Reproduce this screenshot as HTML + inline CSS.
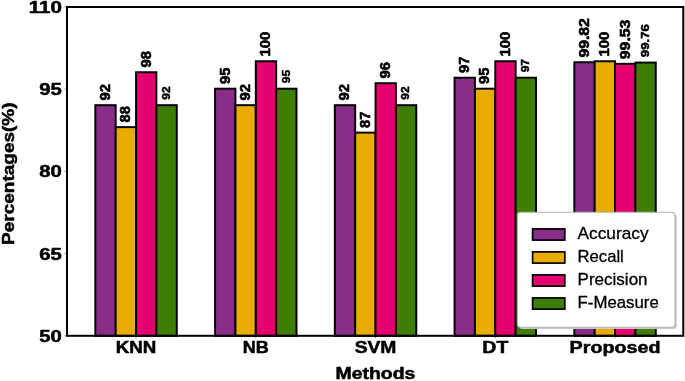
<!DOCTYPE html>
<html><head><meta charset="utf-8"><title>chart</title>
<style>html,body{margin:0;padding:0;background:#fff;}body{width:685px;height:381px;overflow:hidden;font-family:"Liberation Sans",sans-serif;}</style></head>
<body>
<svg width="685" height="381" viewBox="0 0 685 381" style="display:block;will-change:transform">
<rect x="0" y="0" width="685" height="381" fill="#fff"/>
<rect x="95.33" y="105.17" width="20.36" height="230.63" fill="#882E87" stroke="#000" stroke-width="1.95"/>
<text transform="translate(109.81,100.47) rotate(-90)" font-family="Liberation Sans, sans-serif" font-weight="bold" font-size="14.2" textLength="16.4" lengthAdjust="spacingAndGlyphs" stroke="#000" stroke-width="0.6" stroke-linejoin="round">92</text>
<rect x="115.69" y="127.13" width="20.36" height="208.67" fill="#E8AB00" stroke="#000" stroke-width="1.95"/>
<text transform="translate(130.17,122.43) rotate(-90)" font-family="Liberation Sans, sans-serif" font-weight="bold" font-size="14.2" textLength="16.4" lengthAdjust="spacingAndGlyphs" stroke="#000" stroke-width="0.6" stroke-linejoin="round">88</text>
<rect x="136.05" y="72.23" width="20.36" height="263.57" fill="#E6006F" stroke="#000" stroke-width="1.95"/>
<text transform="translate(150.53,67.53) rotate(-90)" font-family="Liberation Sans, sans-serif" font-weight="bold" font-size="14.2" textLength="16.4" lengthAdjust="spacingAndGlyphs" stroke="#000" stroke-width="0.6" stroke-linejoin="round">98</text>
<rect x="156.41" y="105.17" width="20.36" height="230.63" fill="#3E7E04" stroke="#000" stroke-width="1.95"/>
<text transform="translate(169.89,99.77) rotate(-90)" font-family="Liberation Sans, sans-serif" font-weight="bold" font-size="11.6" textLength="13.4" lengthAdjust="spacingAndGlyphs" stroke="#000" stroke-width="0.5" stroke-linejoin="round">92</text>
<rect x="215.08" y="88.70" width="20.36" height="247.10" fill="#882E87" stroke="#000" stroke-width="1.95"/>
<text transform="translate(229.56,84.00) rotate(-90)" font-family="Liberation Sans, sans-serif" font-weight="bold" font-size="14.2" textLength="16.4" lengthAdjust="spacingAndGlyphs" stroke="#000" stroke-width="0.6" stroke-linejoin="round">95</text>
<rect x="235.44" y="105.17" width="20.36" height="230.63" fill="#E8AB00" stroke="#000" stroke-width="1.95"/>
<text transform="translate(249.92,100.47) rotate(-90)" font-family="Liberation Sans, sans-serif" font-weight="bold" font-size="14.2" textLength="16.4" lengthAdjust="spacingAndGlyphs" stroke="#000" stroke-width="0.6" stroke-linejoin="round">92</text>
<rect x="255.80" y="61.25" width="20.36" height="274.55" fill="#E6006F" stroke="#000" stroke-width="1.95"/>
<text transform="translate(270.28,56.55) rotate(-90)" font-family="Liberation Sans, sans-serif" font-weight="bold" font-size="14.2" textLength="24.8" lengthAdjust="spacingAndGlyphs" stroke="#000" stroke-width="0.6" stroke-linejoin="round">100</text>
<rect x="276.16" y="88.70" width="20.36" height="247.10" fill="#3E7E04" stroke="#000" stroke-width="1.95"/>
<text transform="translate(289.64,83.30) rotate(-90)" font-family="Liberation Sans, sans-serif" font-weight="bold" font-size="11.6" textLength="13.4" lengthAdjust="spacingAndGlyphs" stroke="#000" stroke-width="0.5" stroke-linejoin="round">95</text>
<rect x="334.83" y="105.17" width="20.36" height="230.63" fill="#882E87" stroke="#000" stroke-width="1.95"/>
<text transform="translate(349.31,100.47) rotate(-90)" font-family="Liberation Sans, sans-serif" font-weight="bold" font-size="14.2" textLength="16.4" lengthAdjust="spacingAndGlyphs" stroke="#000" stroke-width="0.6" stroke-linejoin="round">92</text>
<rect x="355.19" y="132.62" width="20.36" height="203.18" fill="#E8AB00" stroke="#000" stroke-width="1.95"/>
<text transform="translate(369.67,127.92) rotate(-90)" font-family="Liberation Sans, sans-serif" font-weight="bold" font-size="14.2" textLength="16.4" lengthAdjust="spacingAndGlyphs" stroke="#000" stroke-width="0.6" stroke-linejoin="round">87</text>
<rect x="375.55" y="83.21" width="20.36" height="252.59" fill="#E6006F" stroke="#000" stroke-width="1.95"/>
<text transform="translate(390.03,78.51) rotate(-90)" font-family="Liberation Sans, sans-serif" font-weight="bold" font-size="14.2" textLength="16.4" lengthAdjust="spacingAndGlyphs" stroke="#000" stroke-width="0.6" stroke-linejoin="round">96</text>
<rect x="395.91" y="105.17" width="20.36" height="230.63" fill="#3E7E04" stroke="#000" stroke-width="1.95"/>
<text transform="translate(409.39,99.77) rotate(-90)" font-family="Liberation Sans, sans-serif" font-weight="bold" font-size="11.6" textLength="13.4" lengthAdjust="spacingAndGlyphs" stroke="#000" stroke-width="0.5" stroke-linejoin="round">92</text>
<rect x="454.58" y="77.72" width="20.36" height="258.08" fill="#882E87" stroke="#000" stroke-width="1.95"/>
<text transform="translate(469.06,73.02) rotate(-90)" font-family="Liberation Sans, sans-serif" font-weight="bold" font-size="14.2" textLength="16.4" lengthAdjust="spacingAndGlyphs" stroke="#000" stroke-width="0.6" stroke-linejoin="round">97</text>
<rect x="474.94" y="88.70" width="20.36" height="247.10" fill="#E8AB00" stroke="#000" stroke-width="1.95"/>
<text transform="translate(489.42,84.00) rotate(-90)" font-family="Liberation Sans, sans-serif" font-weight="bold" font-size="14.2" textLength="16.4" lengthAdjust="spacingAndGlyphs" stroke="#000" stroke-width="0.6" stroke-linejoin="round">95</text>
<rect x="495.30" y="61.25" width="20.36" height="274.55" fill="#E6006F" stroke="#000" stroke-width="1.95"/>
<text transform="translate(509.78,56.55) rotate(-90)" font-family="Liberation Sans, sans-serif" font-weight="bold" font-size="14.2" textLength="24.8" lengthAdjust="spacingAndGlyphs" stroke="#000" stroke-width="0.6" stroke-linejoin="round">100</text>
<rect x="515.66" y="77.72" width="20.36" height="258.08" fill="#3E7E04" stroke="#000" stroke-width="1.95"/>
<text transform="translate(529.14,72.32) rotate(-90)" font-family="Liberation Sans, sans-serif" font-weight="bold" font-size="11.6" textLength="13.4" lengthAdjust="spacingAndGlyphs" stroke="#000" stroke-width="0.5" stroke-linejoin="round">97</text>
<rect x="574.33" y="62.24" width="20.36" height="273.56" fill="#882E87" stroke="#000" stroke-width="1.95"/>
<text transform="translate(588.81,57.54) rotate(-90)" font-family="Liberation Sans, sans-serif" font-weight="bold" font-size="14.2" textLength="39.4" lengthAdjust="spacingAndGlyphs" stroke="#000" stroke-width="0.6" stroke-linejoin="round">99.82</text>
<rect x="594.69" y="61.25" width="20.36" height="274.55" fill="#E8AB00" stroke="#000" stroke-width="1.95"/>
<text transform="translate(609.17,56.55) rotate(-90)" font-family="Liberation Sans, sans-serif" font-weight="bold" font-size="14.2" textLength="24.8" lengthAdjust="spacingAndGlyphs" stroke="#000" stroke-width="0.6" stroke-linejoin="round">100</text>
<rect x="615.05" y="63.83" width="20.36" height="271.97" fill="#E6006F" stroke="#000" stroke-width="1.95"/>
<text transform="translate(629.53,59.13) rotate(-90)" font-family="Liberation Sans, sans-serif" font-weight="bold" font-size="14.2" textLength="39.4" lengthAdjust="spacingAndGlyphs" stroke="#000" stroke-width="0.6" stroke-linejoin="round">99.53</text>
<rect x="635.41" y="62.57" width="20.36" height="273.23" fill="#3E7E04" stroke="#000" stroke-width="1.95"/>
<text transform="translate(648.89,57.17) rotate(-90)" font-family="Liberation Sans, sans-serif" font-weight="bold" font-size="11.6" textLength="33.0" lengthAdjust="spacingAndGlyphs" stroke="#000" stroke-width="0.5" stroke-linejoin="round">99.76</text>
<rect x="67.0" y="7.0" width="616.30" height="328.8" fill="none" stroke="#000" stroke-width="2"/>
<line x1="136.05" y1="336.6" x2="136.05" y2="338.4" stroke="#000" stroke-width="0.9" opacity="0.45"/>
<line x1="255.80" y1="336.6" x2="255.80" y2="338.4" stroke="#000" stroke-width="0.9" opacity="0.45"/>
<line x1="375.55" y1="336.6" x2="375.55" y2="338.4" stroke="#000" stroke-width="0.9" opacity="0.45"/>
<line x1="495.30" y1="336.6" x2="495.30" y2="338.4" stroke="#000" stroke-width="0.9" opacity="0.45"/>
<line x1="615.05" y1="336.6" x2="615.05" y2="338.4" stroke="#000" stroke-width="0.9" opacity="0.45"/>
<line x1="64.4" y1="335.80" x2="66.2" y2="335.80" stroke="#000" stroke-width="0.9" opacity="0.45"/>
<line x1="64.4" y1="253.60" x2="66.2" y2="253.60" stroke="#000" stroke-width="0.9" opacity="0.45"/>
<line x1="64.4" y1="171.40" x2="66.2" y2="171.40" stroke="#000" stroke-width="0.9" opacity="0.45"/>
<line x1="64.4" y1="89.20" x2="66.2" y2="89.20" stroke="#000" stroke-width="0.9" opacity="0.45"/>
<line x1="64.4" y1="7.00" x2="66.2" y2="7.00" stroke="#000" stroke-width="0.9" opacity="0.45"/>
<text x="39.30" y="341.80" font-family="Liberation Sans, sans-serif" stroke="#000" stroke-width="0.5" stroke-linejoin="round" font-weight="bold" font-size="16.2" textLength="22.6" lengthAdjust="spacingAndGlyphs">50</text>
<text x="39.30" y="259.60" font-family="Liberation Sans, sans-serif" stroke="#000" stroke-width="0.5" stroke-linejoin="round" font-weight="bold" font-size="16.2" textLength="22.6" lengthAdjust="spacingAndGlyphs">65</text>
<text x="39.30" y="177.40" font-family="Liberation Sans, sans-serif" stroke="#000" stroke-width="0.5" stroke-linejoin="round" font-weight="bold" font-size="16.2" textLength="22.6" lengthAdjust="spacingAndGlyphs">80</text>
<text x="39.30" y="95.20" font-family="Liberation Sans, sans-serif" stroke="#000" stroke-width="0.5" stroke-linejoin="round" font-weight="bold" font-size="16.2" textLength="22.6" lengthAdjust="spacingAndGlyphs">95</text>
<text x="28.70" y="13.00" font-family="Liberation Sans, sans-serif" stroke="#000" stroke-width="0.5" stroke-linejoin="round" font-weight="bold" font-size="16.2" textLength="33.2" lengthAdjust="spacingAndGlyphs">110</text>
<text x="115.75" y="353.1" font-family="Liberation Sans, sans-serif" stroke="#000" stroke-width="0.5" stroke-linejoin="round" font-weight="bold" font-size="16.2" textLength="40.6" lengthAdjust="spacingAndGlyphs">KNN</text>
<text x="242.80" y="353.1" font-family="Liberation Sans, sans-serif" stroke="#000" stroke-width="0.5" stroke-linejoin="round" font-weight="bold" font-size="16.2" textLength="26.0" lengthAdjust="spacingAndGlyphs">NB</text>
<text x="354.65" y="353.1" font-family="Liberation Sans, sans-serif" stroke="#000" stroke-width="0.5" stroke-linejoin="round" font-weight="bold" font-size="16.2" textLength="41.8" lengthAdjust="spacingAndGlyphs">SVM</text>
<text x="482.30" y="353.1" font-family="Liberation Sans, sans-serif" stroke="#000" stroke-width="0.5" stroke-linejoin="round" font-weight="bold" font-size="16.2" textLength="26.0" lengthAdjust="spacingAndGlyphs">DT</text>
<text x="569.55" y="353.1" font-family="Liberation Sans, sans-serif" stroke="#000" stroke-width="0.5" stroke-linejoin="round" font-weight="bold" font-size="16.2" textLength="91.0" lengthAdjust="spacingAndGlyphs">Proposed</text>
<text x="335.5" y="379.2" font-family="Liberation Sans, sans-serif" stroke="#000" stroke-width="0.5" stroke-linejoin="round" font-weight="bold" font-size="16.2" textLength="79.8" lengthAdjust="spacingAndGlyphs">Methods</text>
<text transform="translate(13.8,245.0) rotate(-90)" font-family="Liberation Sans, sans-serif" stroke="#000" stroke-width="0.5" stroke-linejoin="round" font-weight="bold" font-size="16.2" textLength="142.6" lengthAdjust="spacingAndGlyphs">Percentages(%)</text>
<rect x="519.1999999999999" y="214.0" width="157.6" height="115.0" rx="3.2" fill="#c9c9c9"/>
<rect x="517.4" y="212.2" width="157.6" height="115.0" rx="3.2" fill="#fff" stroke="#b4b4b4" stroke-width="1.1"/>
<rect x="532.6" y="228.90" width="32.2" height="11.2" fill="#882E87" stroke="#000" stroke-width="1.7"/>
<text x="577.6" y="239.20" font-family="Liberation Sans, sans-serif" font-size="15.7" textLength="71.0" lengthAdjust="spacingAndGlyphs" fill="#000" stroke="#000" stroke-width="0.3">Accuracy</text>
<rect x="532.6" y="251.90" width="32.2" height="11.2" fill="#E8AB00" stroke="#000" stroke-width="1.7"/>
<text x="577.6" y="262.20" font-family="Liberation Sans, sans-serif" font-size="15.7" textLength="46.2" lengthAdjust="spacingAndGlyphs" fill="#000" stroke="#000" stroke-width="0.3">Recall</text>
<rect x="532.6" y="274.90" width="32.2" height="11.2" fill="#E6006F" stroke="#000" stroke-width="1.7"/>
<text x="577.6" y="285.20" font-family="Liberation Sans, sans-serif" font-size="15.7" textLength="70.0" lengthAdjust="spacingAndGlyphs" fill="#000" stroke="#000" stroke-width="0.3">Precision</text>
<rect x="532.6" y="297.90" width="32.2" height="11.2" fill="#3E7E04" stroke="#000" stroke-width="1.7"/>
<text x="577.6" y="308.20" font-family="Liberation Sans, sans-serif" font-size="15.7" textLength="81.2" lengthAdjust="spacingAndGlyphs" fill="#000" stroke="#000" stroke-width="0.3">F-Measure</text>
</svg>
</body></html>
